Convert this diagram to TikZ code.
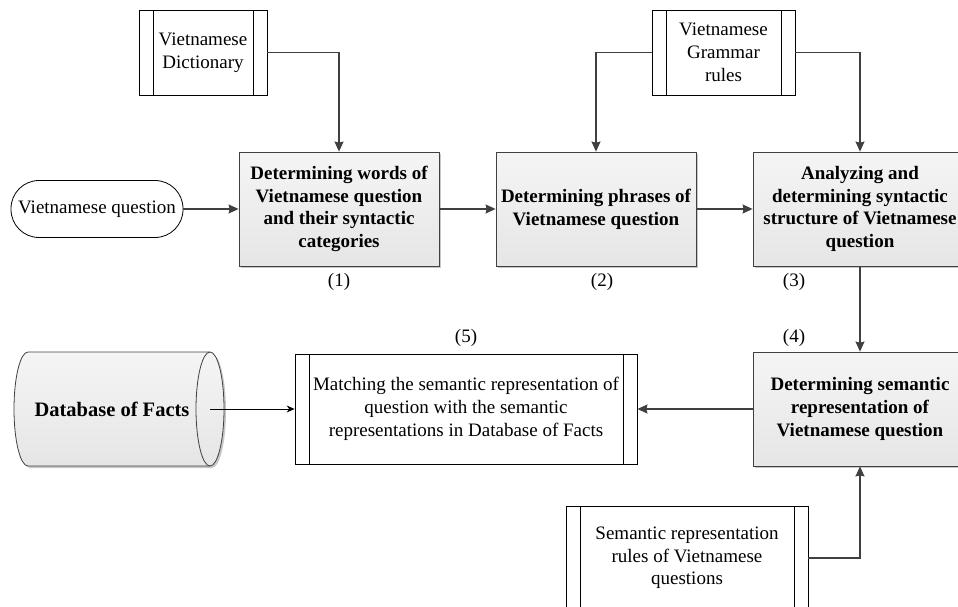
\documentclass[tikz,border=0pt]{standalone}
\usepackage{fontspec}
\setmainfont{Liberation Serif}
\usetikzlibrary{shadows,arrows.meta}
\definecolor{ln}{HTML}{404040}
\tikzset{pr/.style = {rectangle, draw=ln, line width=0.8pt, top color=white!96!black, bottom color=white!90!black,
                      drop shadow={shadow xshift=2pt, shadow yshift=-2pt, fill=black!22, opacity=1},
                      minimum height=114pt, inner sep=0pt, align=center, font=\fontsize{19}{22.7}\selectfont\bfseries},
           ex/.style = {rectangle, draw=black, line width=0.8pt, fill=white, inner sep=0pt, align=center,
                      font=\fontsize{19}{22.7}\selectfont,
                      path picture={\draw[line width=0.8pt] ([xshift=14pt]path picture bounding box.north west) -- ([xshift=14pt]path picture bounding box.south west);
                                    \draw[line width=0.8pt] ([xshift=-14pt]path picture bounding box.north east) -- ([xshift=-14pt]path picture bounding box.south east);}},
           te/.style = {rectangle, rounded corners=28pt, draw=black, line width=0.8pt, inner sep=0pt,
                      minimum width=172pt, minimum height=57pt, font=\fontsize{19}{22.7}\selectfont},
           nr/.style = {inner sep=0pt, font=\fontsize{19}{22.7}\selectfont},
           fl/.style = {draw=ln, line width=1.3pt, -{Stealth[length=10pt, width=9pt, inset=1pt]}}}

\begin{document}
\begin{tikzpicture}[x=1pt, y=-1pt]
    \useasboundingbox (0,0) rectangle (958,607);
    \clip (0,0) rectangle (958,607);
    % database drum
    \draw[draw=ln, line width=0.8pt, top color=white!96!black, bottom color=white!90!black,
          drop shadow={shadow xshift=2pt, shadow yshift=-2pt, fill=black!22, opacity=1}]
        (28,352) -- (210,352) arc[start angle=-90, end angle=90, x radius=14, y radius=57]
        -- (28,466) arc[start angle=90, end angle=270, x radius=14, y radius=57] -- cycle;
    \draw[draw=ln, line width=0.8pt] (210,352) arc[start angle=-90, end angle=-270, x radius=14, y radius=57];
    \node[minimum width=196pt, minimum height=114pt, inner sep=0pt, font=\fontsize{20.5}{24}\selectfont\bfseries] (db) at (112,409) {Database of Facts};
    \node[ex, minimum width=128pt, minimum height=85pt] (dict) at (203,52.5) {Vietnamese\\Dictionary};
    \node[ex, minimum width=143pt, minimum height=85pt] (gram) at (723.5,52.5) {Vietnamese\\Grammar\\rules};
    \node[te] (q) at (97,209) {Vietnamese question};
    \node[pr, minimum width=200pt] (p1) at (339,209) {Determining words of\\Vietnamese question\\and their syntactic\\categories};
    \node[pr, minimum width=200pt] (p2) at (596,209) {Determining phrases of\\Vietnamese question};
    \node[pr, minimum width=214pt] (p3) at (860,209) {Analyzing and\\determining syntactic\\structure of Vietnamese\\question};
    \node[pr, minimum width=214pt] (p4) at (860,409) {Determining semantic\\representation of\\Vietnamese question};
    \node[ex, minimum width=342pt, minimum height=110pt] (m5) at (466,409) {Matching the semantic representation of\\question with the semantic\\representations in Database of Facts};
    \node[ex, minimum width=242pt, minimum height=104pt] (sem) at (687,558) {Semantic representation\\rules of Vietnamese\\questions};
    \node[nr] (l1) at (339,282) {(1)};
    \node[nr] (l2) at (602,282) {(2)};
    \node[nr] (l3) at (794,282) {(3)};
    \node[nr] (l4) at (794,338) {(4)};
    \node[nr] (l5) at (466,338) {(5)};
    \draw[fl] (dict) -| (p1);
    \draw[fl] (q) -- (p1);
    \draw[fl] (p1) -- (p2);
    \draw[fl] (p2) -- (p3);
    \draw[fl] (gram) -| (p2);
    \draw[fl] (gram) -| (p3);
    \draw[fl] (p3) -- (p4);
    \draw[fl] (p4) -- (m5);
    \draw[fl] (sem) -| (p4);
    \draw[-{Stealth[length=8pt, width=7pt]}, line width=0.8pt] (db.east) -- (m5);
\end{tikzpicture}
\end{document}
